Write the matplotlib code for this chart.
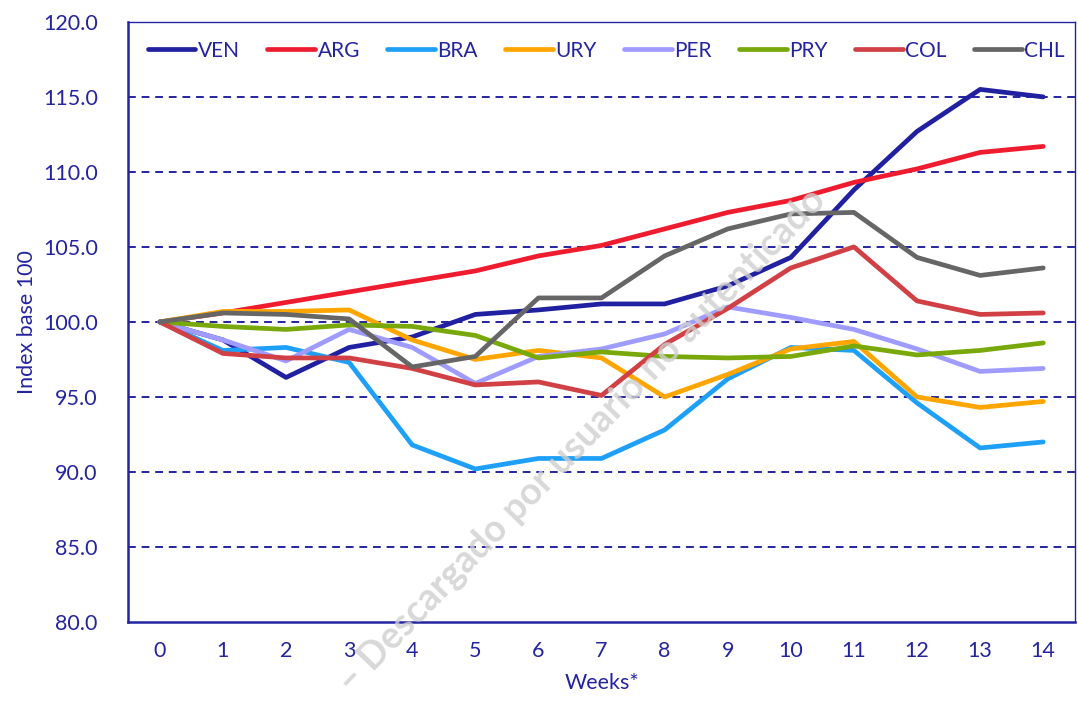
import matplotlib
matplotlib.use("Agg")
import matplotlib.pyplot as plt

# --- datos ---
weeks = list(range(15))
ven = [100, 98.8, 96.3, 98.3, 99.0, 100.5, 100.8, 101.2, 101.2, 102.4, 104.3, 108.8, 112.7, 115.5, 115.0]
arg = [100, 100.6, 101.3, 102.0, 102.7, 103.4, 104.4, 105.1, 106.2, 107.3, 108.1, 109.3, 110.2, 111.3, 111.7]
bra = [100, 98.1, 98.3, 97.3, 91.8, 90.2, 90.9, 90.9, 92.8, 96.2, 98.3, 98.1, 94.6, 91.6, 92.0]
ury = [100, 100.7, 100.7, 100.8, 98.8, 97.5, 98.1, 97.6, 95.0, 96.5, 98.2, 98.7, 95.0, 94.3, 94.7]
per = [100, 98.8, 97.4, 99.5, 98.3, 95.9, 97.7, 98.2, 99.2, 101.0, 100.3, 99.5, 98.2, 96.7, 96.9]
pry = [100, 99.7, 99.5, 99.8, 99.7, 99.1, 97.6, 98.0, 97.7, 97.6, 97.7, 98.4, 97.8, 98.1, 98.6]
col = [100, 97.9, 97.6, 97.6, 96.9, 95.8, 96.0, 95.1, 98.5, 100.9, 103.6, 105.0, 101.4, 100.5, 100.6]
chl = [100, 100.6, 100.5, 100.2, 97.0, 97.7, 101.6, 101.6, 104.4, 106.2, 107.2, 107.3, 104.3, 103.1, 103.6]

series = [("VEN", ven, "#2020a0"), ("ARG", arg, "#ee1c2e"), ("BRA", bra, "#1ea0f8"),
          ("URY", ury, "#ffa500"), ("PER", per, "#a09cff"), ("PRY", pry, "#78a80a"),
          ("COL", col, "#d04044"), ("CHL", chl, "#666666")]

navy = "#2424a0"
plt.rcParams["font.family"] = ["Lato", "DejaVu Sans"]

fig = plt.figure(figsize=(10.78, 7.06), dpi=100)
ax = fig.add_axes([0.119, 0.119, 0.878, 0.850])

for y in [85, 90, 95, 100, 105, 110, 115]:
    ax.axhline(y, color=navy, lw=1.4, ls=(0, (4, 3)), zorder=1)

for name, vals, c in series:
    ax.plot(weeks, vals, color=c, lw=3.4, label=name, zorder=3, solid_capstyle="round")

ax.set_xlim(-0.5, 14.5)
ax.set_ylim(80, 120)
ax.set_xticks(weeks)
ax.set_yticks(range(80, 121, 5))
ax.set_yticklabels([f"{v:.1f}" for v in range(80, 121, 5)])
ax.tick_params(length=0, labelsize=15.5, colors=navy, pad=14)
ax.tick_params(axis="y", pad=22)
for s in ax.spines.values():
    s.set_color(navy)
    s.set_linewidth(1.0)
ax.spines["bottom"].set_linewidth(1.8)
ax.spines["left"].set_linewidth(1.8)

ax.set_xlabel("Weeks*", fontsize=15.5, color=navy, labelpad=8)
ax.set_ylabel("Index base 100", fontsize=15.5, color=navy, labelpad=4)

leg = ax.legend(loc="upper center", ncol=8, frameon=False, fontsize=15,
                handlelength=2.3, handletextpad=0.12, columnspacing=1.3,
                bbox_to_anchor=(0.505, 1.0))
for t in leg.get_texts():
    t.set_color(navy)

fig.text(0.54, 0.375, "– Descargado por usuario no autenticado", rotation=46,
         fontsize=27, color="#cfcfcf", alpha=0.8, ha="center", va="center",
         fontweight="bold", zorder=0)

fig.savefig("out.png", dpi=100)
